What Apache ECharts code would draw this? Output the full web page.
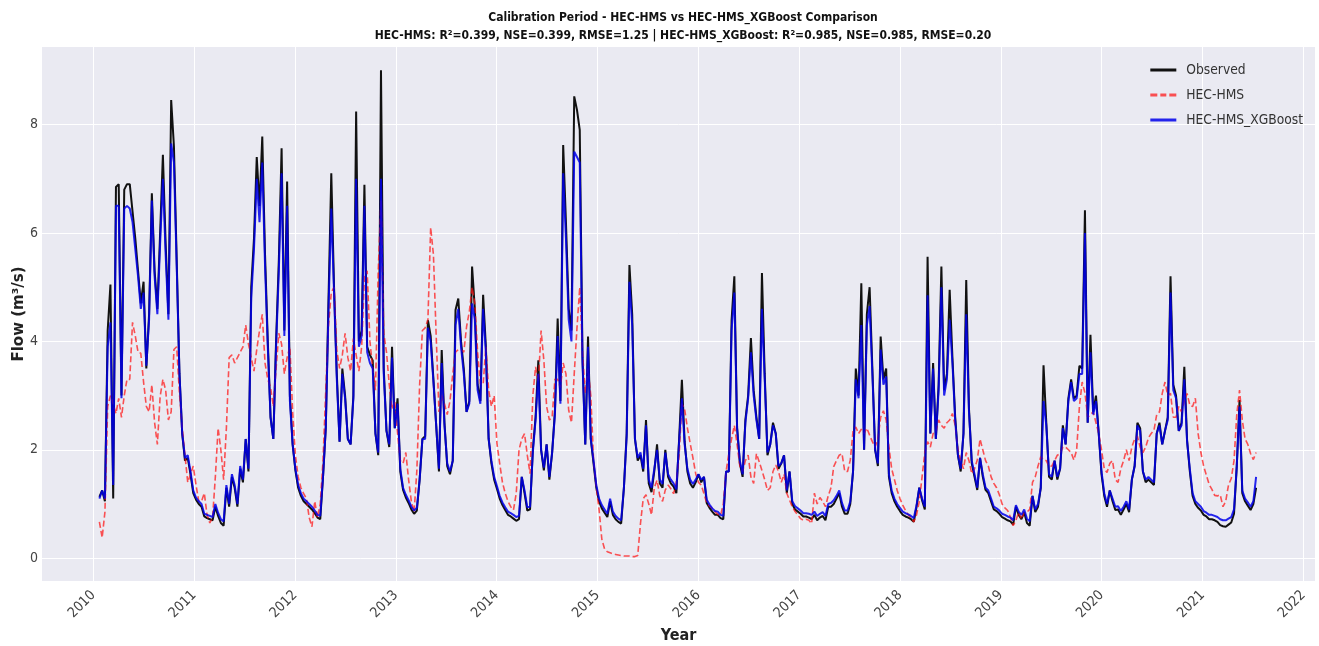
<!DOCTYPE html>
<html>
<head>
<meta charset="utf-8">
<script src="https://cdn.jsdelivr.net/npm/echarts@6/dist/echarts.min.js"></script>
<style>
  html, body { margin: 0; padding: 0; background: #fff; }
  #chart { width: 1319px; height: 646px; }
</style>
</head>
<body>
<div id="chart"></div>
<script>
// flow series, one value every 10 days from 2010-01-23
// x is kept as a decimal year
const startYear = 2010 + 22 / 365.25
const stepYears = 10 / 365.25

const observed = [
  1.13, 1.25, 1.05, 4.2, 5.05, 1.1, 6.85, 6.9, 3.0, 6.8,
  6.9, 6.9, 6.4, 5.9, 5.3, 4.7, 5.1, 3.5, 4.5, 6.73,
  5.3, 4.6, 6.0, 7.44, 5.8, 4.5, 8.45, 7.6, 5.5, 3.4,
  2.3, 1.8, 1.85, 1.55, 1.2, 1.08, 1.0, 0.95, 0.77, 0.74,
  0.72, 0.7, 0.95, 0.78, 0.65, 0.6, 1.3, 0.95, 1.5, 1.3,
  0.95, 1.65, 1.4, 2.2, 1.6, 5.0, 5.9, 7.4, 6.5, 7.78,
  5.6, 4.0, 2.6, 2.2, 4.0, 5.5, 7.56, 4.2, 6.95, 3.0,
  2.1, 1.62, 1.3, 1.15, 1.05, 1.0, 0.95, 0.9, 0.83, 0.75,
  0.72, 1.5, 2.4, 4.8, 7.1, 5.0, 3.4, 2.15, 3.5, 3.0,
  2.2, 2.1, 3.0, 8.24, 4.0, 4.2, 6.89, 3.9, 3.75, 3.65,
  2.3, 1.9, 9.0, 3.5, 2.35, 2.05, 3.9, 2.4, 2.95, 1.6,
  1.26, 1.12, 1.02, 0.9, 0.82, 0.88, 1.45, 2.2, 2.25, 4.39,
  4.1, 3.3, 2.45, 1.6, 3.84, 2.5, 1.7, 1.55, 1.8, 4.58,
  4.79, 4.0, 3.5, 2.7, 2.9, 5.38, 4.6, 3.2, 2.9, 4.86,
  3.9, 2.2, 1.75, 1.45, 1.28, 1.1, 0.98, 0.89, 0.8, 0.77,
  0.73, 0.69, 0.72, 1.5, 1.2, 0.88, 0.9, 2.0, 2.6, 3.65,
  2.0, 1.62, 2.1, 1.45, 1.95, 2.7, 4.42, 2.9, 7.62, 6.2,
  4.6, 4.2, 8.52, 8.27, 7.9, 3.7, 2.1, 4.09, 2.2, 1.75,
  1.3, 1.05, 0.92, 0.84, 0.76, 1.05, 0.8, 0.72, 0.67, 0.64,
  1.3, 2.3, 5.41, 4.5, 2.2, 1.8, 1.9, 1.6, 2.55, 1.38,
  1.22, 1.6, 2.1, 1.38, 1.3, 2.0, 1.5, 1.38, 1.32, 1.2,
  2.2, 3.29, 2.15, 1.6, 1.38, 1.3, 1.4, 1.55, 1.4, 1.5,
  1.02, 0.93, 0.86, 0.8, 0.8, 0.74, 0.72, 1.6, 1.6, 4.39,
  5.2, 2.4, 1.75, 1.5, 2.55, 3.0, 4.06, 3.1, 2.6, 2.2,
  5.26, 3.4, 1.9, 2.1, 2.5, 2.3, 1.65, 1.75, 1.9, 1.2,
  1.6, 1.0, 0.9, 0.86, 0.82, 0.77, 0.77, 0.75, 0.72, 0.8,
  0.7, 0.75, 0.78, 0.7, 0.95, 0.95, 1.0, 1.1, 1.2, 0.95,
  0.82, 0.82, 1.0, 1.6, 3.5, 3.0, 5.07, 2.0, 4.5, 5.0,
  3.5, 2.0, 1.7, 4.09, 3.3, 3.5, 1.5, 1.2, 1.05, 0.95,
  0.87, 0.8, 0.77, 0.75, 0.72, 0.67, 0.95, 1.3, 1.07, 0.9,
  5.56, 2.3, 3.6, 2.2, 3.2, 5.38, 3.1, 3.4, 4.95, 3.7,
  2.6, 1.9, 1.6, 2.3, 5.13, 2.75, 1.75, 1.5, 1.26, 1.85,
  1.5, 1.26, 1.2, 1.05, 0.9, 0.87, 0.82, 0.76, 0.73, 0.7,
  0.68, 0.62, 0.95, 0.8, 0.72, 0.85, 0.65, 0.6, 1.15, 0.85,
  0.95, 1.3, 3.56, 2.5, 1.5, 1.45, 1.8, 1.45, 1.65, 2.45,
  2.1, 2.95, 3.3, 2.95, 3.0, 3.55, 3.5, 6.42, 2.5, 4.12,
  2.7, 3.0, 2.3, 1.55, 1.15, 0.95, 1.25, 1.05, 0.89, 0.9,
  0.8, 0.9, 1.0, 0.85, 1.45, 1.7, 2.5, 2.4, 1.6, 1.4,
  1.45, 1.4, 1.35, 2.3, 2.5, 2.1, 2.35, 2.6, 5.2, 3.2,
  3.0, 2.35, 2.5, 3.53, 2.18, 1.6, 1.15, 1.0, 0.93, 0.88,
  0.8, 0.77, 0.72, 0.72, 0.7, 0.67, 0.61, 0.59, 0.58, 0.62,
  0.66, 0.82, 1.7, 2.92, 1.2, 1.05, 0.97, 0.89, 1.0, 1.3
]

const hecHms = [
  0.67, 0.38, 0.85, 2.8, 3.0, 2.85, 2.67, 2.95, 2.6, 3.0,
  3.3, 3.3, 4.35, 4.1, 3.8, 3.78, 3.25, 2.8, 2.7, 3.2,
  2.5, 2.1, 2.98, 3.3, 3.1, 2.55, 2.7, 3.85, 3.9, 3.04,
  2.4, 1.9, 1.4, 1.55, 1.7, 1.35, 1.05, 1.05, 1.2, 0.8,
  0.65, 0.75, 1.5, 2.4, 2.0, 1.45, 2.4, 3.7, 3.75, 3.6,
  3.7, 3.8, 3.9, 4.3, 3.95, 3.7, 3.45, 3.85, 4.2, 4.5,
  3.6, 3.3, 3.15, 2.8, 3.5, 4.15, 3.95, 3.4, 3.7, 3.9,
  2.7, 1.9, 1.5, 1.3, 1.19, 1.1, 0.75, 0.58, 1.05, 0.75,
  1.0, 1.8, 3.1, 4.3, 4.9, 5.0, 3.84, 3.5, 3.75, 4.15,
  3.7, 3.45, 4.05, 3.75, 3.45, 3.9, 5.2, 5.3, 4.0, 3.5,
  3.1, 5.3, 6.6, 4.15, 3.8, 3.2, 2.75, 2.9, 2.3, 1.8,
  1.75, 1.95, 1.45, 1.05, 0.85, 1.62, 3.2, 4.2, 4.25, 4.4,
  6.1, 5.6, 4.1, 2.7, 3.0, 2.85, 2.65, 2.9, 3.4, 3.8,
  3.85, 3.85, 3.8, 4.27, 4.55, 5.0, 4.7, 3.8, 3.22, 3.2,
  3.9, 3.1, 2.8, 3.0, 2.12, 1.75, 1.4, 1.2, 1.05, 0.95,
  0.89, 1.2, 2.0, 2.2, 2.3, 1.9, 1.56, 3.0, 3.53, 3.25,
  4.2, 3.65, 2.8, 2.55, 2.6, 3.3, 3.3, 3.15, 3.6, 3.4,
  2.73, 2.5, 3.4, 4.25, 5.0, 3.8, 3.04, 3.5, 3.0, 1.81,
  1.3, 0.9, 0.35, 0.17, 0.12, 0.1, 0.08, 0.07, 0.06, 0.05,
  0.04, 0.04, 0.04, 0.03, 0.03, 0.05, 0.64, 1.1, 1.17, 1.0,
  0.8, 1.3, 1.44, 1.15, 1.05, 1.26, 1.35, 1.28, 1.19, 1.4,
  1.9, 2.85, 2.75, 2.4, 2.12, 1.85, 1.56, 1.4, 1.35, 1.19,
  1.02, 0.96, 0.92, 0.86, 0.81, 0.79, 1.0, 1.6, 1.93, 2.2,
  2.45, 2.1, 1.7, 1.6, 1.8, 1.9, 1.5, 1.38, 1.93, 1.78,
  1.62, 1.45, 1.25, 1.3, 1.6, 1.72, 1.6, 1.4, 1.55, 1.2,
  1.07, 0.95, 0.86, 0.8, 0.73, 0.7, 0.72, 0.7, 0.64, 1.2,
  1.0, 1.12, 1.05, 0.95, 1.15, 1.3, 1.69, 1.8, 1.9, 1.93,
  1.6, 1.6, 1.81, 2.35, 2.42, 2.3, 2.38, 2.3, 2.4, 2.27,
  2.15, 2.05, 2.2, 2.6, 2.72, 2.55, 2.05, 1.65, 1.45, 1.25,
  1.1, 0.98, 0.88, 0.8, 0.75, 0.67, 0.8, 1.05, 1.5, 1.95,
  2.15, 2.05, 2.3, 2.32, 2.55, 2.45, 2.4, 2.5, 2.55, 2.67,
  2.45, 2.0, 1.8, 1.65, 1.95, 1.8, 1.56, 1.65, 1.81, 2.2,
  2.0, 1.8, 1.7, 1.5, 1.38, 1.3, 1.17, 1.0, 0.93, 0.88,
  0.76, 0.6, 0.7, 0.85, 0.72, 0.85, 0.85, 0.9, 1.4, 1.5,
  1.7, 1.87, 1.82, 1.8, 1.69, 1.7, 1.8, 1.9, 1.93, 2.05,
  2.05, 2.0, 1.95, 1.81, 2.0, 2.8, 3.25, 3.05, 2.6, 2.65,
  2.7, 2.5, 2.3, 2.0, 1.65, 1.58, 1.75, 1.8, 1.45, 1.4,
  1.65, 1.8, 2.0, 1.8, 2.05, 2.2, 2.25, 2.05, 1.95, 2.05,
  2.22, 2.3, 2.36, 2.65, 2.7, 3.04, 3.25, 3.0, 3.04, 2.6,
  2.6, 2.8, 2.7, 2.9, 3.04, 2.82, 2.8, 2.95, 2.3, 1.95,
  1.7, 1.53, 1.36, 1.27, 1.16, 1.15, 1.17, 0.95, 1.05, 1.35,
  1.47, 1.8, 2.65, 3.1, 2.55, 2.2, 2.1, 1.93, 1.82, 1.95
]

const hecHmsXgb = [
  1.1, 1.25, 1.1, 3.9, 4.35, 1.35, 6.5, 6.5, 2.95, 6.45,
  6.5, 6.45, 6.2, 5.7, 5.2, 4.6, 4.9, 3.55, 4.4, 6.6,
  5.2, 4.5, 5.8, 7.0, 5.6, 4.4, 7.65, 7.3, 5.4, 3.4,
  2.3, 1.85, 1.9, 1.6, 1.25, 1.12, 1.05, 1.0, 0.82, 0.8,
  0.78, 0.76, 1.0, 0.84, 0.72, 0.68, 1.35, 1.0, 1.55, 1.35,
  1.0, 1.7, 1.45, 2.2, 1.65, 4.8, 5.7, 7.0, 6.2, 7.3,
  5.4, 3.9, 2.6, 2.2, 3.9, 5.3, 7.1, 4.1, 6.5, 2.9,
  2.1, 1.65, 1.35, 1.2, 1.1, 1.05, 1.0, 0.95, 0.88, 0.8,
  0.78, 1.5, 2.4, 4.6, 6.45, 4.9, 3.3, 2.15, 3.4, 2.95,
  2.2, 2.1, 2.95, 7.0, 3.9, 4.1, 6.5, 3.8, 3.6, 3.5,
  2.3, 1.95, 7.0, 3.4, 2.35, 2.1, 3.7, 2.4, 2.85, 1.65,
  1.3, 1.17, 1.07, 0.95, 0.88, 0.93, 1.45, 2.2, 2.2, 4.25,
  4.0, 3.25, 2.45, 1.65, 3.6, 2.45, 1.75, 1.6, 1.8, 4.3,
  4.6, 3.9, 3.4, 2.7, 2.85, 4.7, 4.4, 3.1, 2.85, 4.6,
  3.8, 2.2, 1.8, 1.5, 1.33, 1.15, 1.03, 0.94, 0.86, 0.83,
  0.8, 0.76, 0.78, 1.5, 1.25, 0.94, 0.95, 1.95, 2.55, 3.4,
  2.0, 1.67, 2.1, 1.5, 1.95, 2.65, 4.1, 2.85, 7.1, 5.9,
  4.4, 4.0, 7.5, 7.4, 7.3, 3.6, 2.1, 3.9, 2.2, 1.8,
  1.35, 1.1, 0.98, 0.9, 0.82, 1.1, 0.86, 0.78, 0.73, 0.7,
  1.3, 2.25, 5.1, 4.3, 2.2, 1.85, 1.95, 1.65, 2.45, 1.45,
  1.3, 1.65, 2.0, 1.45, 1.37, 1.95, 1.55, 1.45, 1.38, 1.27,
  2.15, 2.95, 2.1, 1.65, 1.45, 1.37, 1.45, 1.55, 1.45, 1.5,
  1.08, 0.99, 0.92, 0.87, 0.86, 0.8, 0.78, 1.6, 1.6, 4.2,
  4.9, 2.4, 1.8, 1.55, 2.5, 2.95, 3.8, 3.0, 2.55, 2.2,
  4.6, 3.3, 1.95, 2.1, 2.45, 2.3, 1.7, 1.75, 1.9, 1.25,
  1.6, 1.05, 0.96, 0.92, 0.88, 0.83, 0.83, 0.82, 0.8, 0.86,
  0.78, 0.82, 0.85, 0.78, 1.0, 1.02, 1.07, 1.15, 1.25, 1.02,
  0.88, 0.88, 1.05, 1.6, 3.3, 2.95, 4.3, 2.0, 4.3, 4.65,
  3.4, 2.0, 1.75, 3.85, 3.2, 3.35, 1.55, 1.25, 1.1, 1.0,
  0.93, 0.86, 0.83, 0.81, 0.78, 0.74, 0.98, 1.3, 1.1, 0.95,
  4.85, 2.3, 3.5, 2.2, 3.1, 5.0, 3.0, 3.3, 4.4, 3.6,
  2.55, 1.9, 1.65, 2.3, 4.5, 2.7, 1.8, 1.55, 1.3, 1.85,
  1.55, 1.3, 1.25, 1.1, 0.95, 0.92, 0.88, 0.82, 0.8, 0.77,
  0.75, 0.7, 0.98, 0.86, 0.8, 0.9, 0.73, 0.68, 1.15, 0.9,
  1.0, 1.3, 2.9, 2.45, 1.55, 1.5, 1.8, 1.5, 1.65, 2.4,
  2.1, 2.9, 3.25, 2.9, 2.95, 3.4, 3.4, 6.0, 2.5, 3.8,
  2.65, 2.9, 2.3, 1.6, 1.2, 1.0, 1.25, 1.1, 0.95, 0.96,
  0.87, 0.95, 1.05, 0.9, 1.45, 1.7, 2.45, 2.35, 1.6, 1.45,
  1.5, 1.45, 1.4, 2.3, 2.45, 2.1, 2.35, 2.55, 4.9, 3.1,
  2.95, 2.35, 2.45, 3.3, 2.15, 1.65, 1.2, 1.05, 1.0, 0.95,
  0.87, 0.84, 0.8, 0.8, 0.78, 0.76, 0.72, 0.7, 0.7, 0.73,
  0.76, 0.9, 1.7, 2.8, 1.25, 1.1, 1.03, 0.95, 1.05, 1.5
]

const yearTicks = [2010, 2011, 2012, 2013, 2014, 2015, 2016, 2017, 2018, 2019, 2020, 2021, 2022]
const flowTicks = [0, 2, 4, 6, 8]

const withYears = vals => vals.map((v, i) => [startYear + i * stepYears, v])

const narrow = "'Liberation Sans Narrow', 'DejaVu Sans Condensed', 'Liberation Sans', sans-serif"

const solidIcon = 'path://M0 0H26V3H0Z'
const dashIcon = 'path://M0 0H7V3H0Z M10 0H16V3H10Z M19 0H26V3H19Z'

const chart = echarts.init(document.getElementById('chart'))
chart.setOption({
  animation: false,
  backgroundColor: '#ffffff',
  title: {
    text: 'Calibration Period - HEC-HMS vs HEC-HMS_XGBoost Comparison\n' +
      'HEC-HMS: R²=0.399, NSE=0.399, RMSE=1.25 | HEC-HMS_XGBoost: R²=0.985, NSE=0.985, RMSE=0.20',
    left: 678,
    top: 4,
    textAlign: 'center',
    textStyle: { fontFamily: narrow, fontSize: 12, fontWeight: 'bold', color: '#111', lineHeight: 18 }
  },
  legend: {
    orient: 'vertical',
    right: 11,
    top: 57,
    itemWidth: 26,
    itemHeight: 3,
    itemGap: 9,
    textStyle: { fontFamily: narrow, fontSize: 13.7, color: '#333', padding: [0, 0, 0, 5], lineHeight: 16 },
    data: [
      { name: 'Observed', icon: solidIcon },
      { name: 'HEC-HMS', icon: dashIcon },
      { name: 'HEC-HMS_XGBoost', icon: solidIcon }
    ]
  },
  grid: {
    left: 42, right: 4, top: 47, bottom: 65,
    outerBoundsMode: 'none',
    containLabel: false,
    show: true, backgroundColor: '#EAEAF2', borderWidth: 0
  },
  xAxis: {
    type: 'value',
    min: 2009.491,
    max: 2022.116,
    name: 'Year',
    nameLocation: 'middle',
    nameGap: 46,
    nameTextStyle: { fontFamily: narrow, fontSize: 16, fontWeight: 'bold', color: '#222' },
    axisLine: { show: false },
    axisTick: { show: false, customValues: yearTicks },
    splitLine: { show: true, lineStyle: { color: '#ffffff', width: 1 } },
    axisLabel: {
      customValues: yearTicks,
      rotate: 45,
      margin: 12,
      fontFamily: narrow,
      fontSize: 14,
      color: '#444',
      formatter: v => String(Math.round(v))
    }
  },
  yAxis: {
    type: 'value',
    min: -0.42,
    max: 9.43,
    name: 'Flow (m³/s)',
    nameLocation: 'middle',
    nameRotate: 90,
    nameGap: 15,
    nameMoveOverlap: false,
    nameTextStyle: { fontFamily: "'DejaVu Sans', sans-serif", fontSize: 15, fontWeight: 'bold', color: '#222' },
    axisLine: { show: false },
    axisTick: { show: false, customValues: flowTicks },
    splitLine: { show: true, lineStyle: { color: '#ffffff', width: 1 } },
    axisLabel: { customValues: flowTicks, margin: 4, fontFamily: narrow, fontSize: 14, color: '#444' }
  },
  series: [
    {
      name: 'Observed', type: 'line', data: withYears(observed),
      showSymbol: false, symbol: 'none',
      lineStyle: { color: '#111111', width: 2 }, itemStyle: { color: '#111111' }
    },
    {
      name: 'HEC-HMS', type: 'line', data: withYears(hecHms),
      showSymbol: false, symbol: 'none',
      lineStyle: { color: 'rgba(255,20,20,0.72)', width: 1.6, type: [6, 3] },
      itemStyle: { color: 'rgba(255,20,20,0.72)' }
    },
    {
      name: 'HEC-HMS_XGBoost', type: 'line', data: withYears(hecHmsXgb),
      showSymbol: false, symbol: 'none',
      lineStyle: { color: 'rgba(0,0,235,0.85)', width: 2 }, itemStyle: { color: 'rgba(0,0,235,0.85)' }
    }
  ]
})
</script>
</body>
</html>
